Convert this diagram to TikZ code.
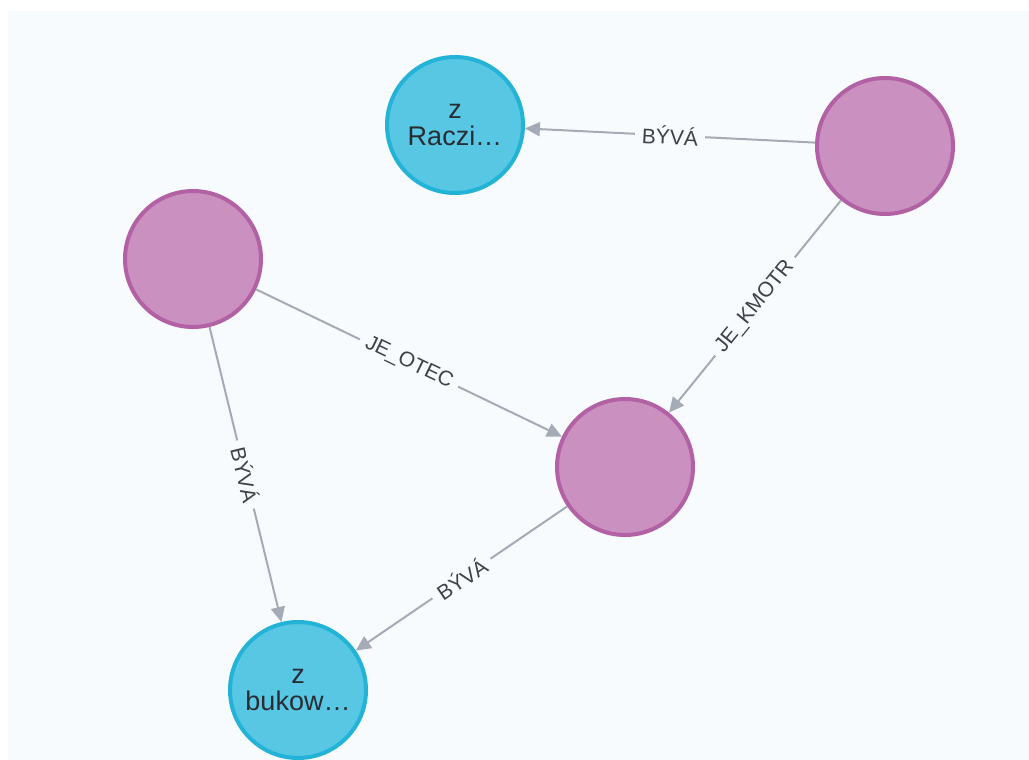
\documentclass[tikz,border=0pt]{standalone}
\usepackage{fontspec}
\setmainfont{Liberation Sans}
\usetikzlibrary{arrows.meta}
\definecolor{bgc}{HTML}{F7FBFE}
\definecolor{bluefill}{HTML}{57C7E3}
\definecolor{blueline}{HTML}{23B3D7}
\definecolor{pinkfill}{HTML}{C990C0}
\definecolor{pinkline}{HTML}{B261A5}
\definecolor{edgec}{HTML}{A5ABB6}
\definecolor{txt}{HTML}{2A2C34}
\tikzset{
  place/.style={circle, minimum size=136pt, inner sep=0pt, line width=4pt, align=center,
    font=\fontsize{27}{27}\selectfont, text=txt},
  bluenode/.style={place, fill=bluefill, draw=blueline},
  pinknode/.style={place, fill=pinkfill, draw=pinkline},
  rel/.style={draw=edgec, line width=2pt, -{Triangle[length=15pt,width=14pt]}},
  lbl/.style={midway, sloped, fill=bgc, inner xsep=7pt, inner ysep=3pt, text=txt!90!white,
    font=\fontsize{21}{21}\selectfont}
}
\begin{document}
\begin{tikzpicture}[x=1pt,y=-1pt]
\useasboundingbox (0,0) rectangle (1029,760);
\fill[white] (0,0) rectangle (1029,760);
\fill[bgc] (8,11) rectangle (1029,760);
\node[bluenode] (raczi) at (455,125) {z\\[0pt]Raczi\ldots};
\node[pinknode] (tr) at (885,146) {};
\node[pinknode] (left) at (193,259) {};
\node[pinknode] (mid) at (625,467) {};
\node[bluenode] (bukow) at (298,690) {z\\[0pt]bukow\ldots};
\draw[rel] (tr) -- node[lbl] {BÝVÁ} (raczi);
\draw[rel] (tr) -- node[lbl] {JE\_KMOTR} (mid);
\draw[rel] (left) -- node[lbl] {JE\_OTEC} (mid);
\draw[rel] (left) -- node[lbl] {BÝVÁ} (bukow);
\draw[rel] (mid) -- node[lbl] {BÝVÁ} (bukow);
\end{tikzpicture}
\end{document}
